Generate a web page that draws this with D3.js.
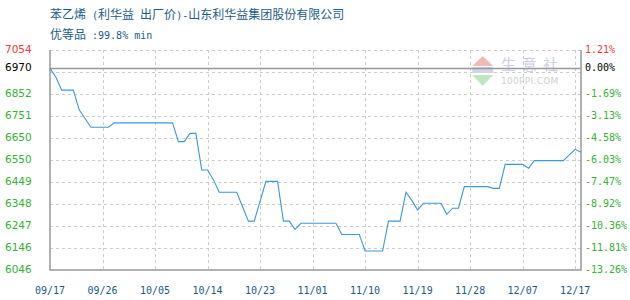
<!DOCTYPE html>
<html><head><meta charset="utf-8">
<script src="https://cdn.jsdelivr.net/npm/d3@7/dist/d3.min.js"></script>
<style>body{margin:0;background:#fff;overflow:hidden}</style>
</head><body>
<svg id="c" width="630" height="300"></svg>
<script>
const titleParts = ["苯乙烯"," (","利华益"," ","出厂价",")-","山东利华益集团股份有限公司"];
const subtitleParts = ["优等品"," :99.8% min"];
const xLabels = ["09/17","09/26","10/05","10/14","10/23","11/01","11/10","11/19","11/28","12/07","12/17"];
const leftTicks = [7054,6970,6852,6751,6650,6550,6449,6348,6247,6146,6046];
const rightTicks = ["1.21%","0.00%","-1.69%","-3.13%","-4.58%","-6.03%","-7.47%","-8.92%","-10.36%","-11.81%","-13.26%"];
const basePrice = 6970;
const prices = [
 6970,6930,6870,6870,6870,6780,6740,6700,6700,6700,
 6700,6720,6720,6720,6720,6720,6720,6720,6720,6720,
 6720,6720,6634,6634,6672,6672,6504,6504,6460,6402,
 6402,6402,6402,6336,6270,6270,6361,6452,6452,6452,
 6270,6270,6232,6260,6260,6260,6260,6260,6260,6260,
 6209,6209,6209,6209,6133,6133,6133,6133,6270,6270,
 6270,6402,6365,6321,6352,6352,6352,6352,6301,6329,
 6329,6428,6428,6428,6428,6428,6420,6420,6530,6530,
 6530,6530,6512,6547,6547,6547,6547,6547,6547,6573,
 6599,6585
];
const labelEvery = 9;

const svg = d3.select("#c");
const L = 50, R = 581, T = 50, B = 270;
const yMax = leftTicks[0], yMin = leftTicks[leftTicks.length-1];
const x = d3.scaleLinear().domain([0, prices.length-1]).range([L, R]);
const y = d3.scaleLinear().domain([yMin, yMax]).range([B, T]);

// title
function mixedText(parts, yy){
  const t = svg.append("text").attr("x",50).attr("y",yy).attr("fill","#1b5b8b").attr("xml:space","preserve")
    .style("white-space","pre");
  parts.forEach((p,i)=>{
    const cjk = /[\u4e00-\u9fff]/.test(p);
    t.append("tspan").style("font-family", cjk ? "'Noto Sans CJK SC'" : "'DejaVu Sans Mono'")
      .style("font-size", cjk ? "12px" : "10px").text(p);
  });
}
mixedText(titleParts, 19);
mixedText(subtitleParts, 39);

// horizontal grid
const gridVals = d3.range(10).map(k => yMax - k*(yMax-yMin)/10);
svg.append("g").selectAll("line").data(gridVals).join("line")
  .attr("x1",L).attr("x2",R).attr("y1",d=>Math.round(y(d))+0.5).attr("y2",d=>Math.round(y(d))+0.5)
  .attr("stroke","#cccccc").attr("stroke-dasharray","3,3");
// vertical grid
const xIdx = xLabels.map((d,i)=>i*labelEvery);
svg.append("g").selectAll("line").data(xIdx.slice(1)).join("line")
  .attr("x1",d=>Math.round(x(d))+0.5).attr("x2",d=>Math.round(x(d))+0.5).attr("y1",T).attr("y2",B)
  .attr("stroke","#cccccc").attr("stroke-dasharray","3,3");

// watermark
const wm = svg.append("g");
wm.append("path").attr("d","M482.7,56 L493.3,66 L472.3,66 Z").attr("fill","#f2b9b9");
wm.append("rect").attr("x",472.3).attr("y",67).attr("width",21).attr("height",6).attr("fill","#d0d4e4");
wm.append("path").attr("d","M472.3,75 L493.3,75 L482.7,86 Z").attr("fill","#bfe6bf");
wm.append("text").attr("x",501).attr("y",70).attr("fill","#c9d0e2")
  .style("font-family","'Noto Sans CJK SC'").style("font-size","15px").style("letter-spacing","6px").text("生意社");
wm.append("text").attr("x",501).attr("y",84).attr("fill","#cfcfcf")
  .style("font-family","'DejaVu Sans'").style("font-size","9px").style("letter-spacing","0.3px").text("100PPI.COM");

// base line
svg.append("line").attr("x1",L).attr("x2",R).attr("y1",Math.round(y(basePrice))+0.5).attr("y2",Math.round(y(basePrice))+0.5)
  .attr("stroke","#999").attr("stroke-width",1.5);

// border (left, bottom, right)
svg.append("path").attr("d",`M${L},${T} L${L},${B} L${R},${B} L${R},${T}`)
  .attr("fill","none").attr("stroke","#999").attr("stroke-width",1.5);

// line
svg.append("path").datum(prices)
  .attr("d", d3.line().x((d,i)=>x(i)).y(d=>y(d)))
  .attr("fill","none").attr("stroke","#3b9ad8").attr("stroke-width",1.1);

// left labels
function col(i){ return i===0 ? "#ff3333" : (i===1 ? "#000" : "#33b233"); }
svg.append("g").selectAll("text").data(leftTicks).join("text")
  .attr("x",5).attr("y",d=>y(d)).attr("dy","0.3em").attr("fill",(d,i)=>col(i))
  .style("font-family","'DejaVu Sans'").style("font-size","10.5px").text(d=>d);
// right labels
svg.append("g").selectAll("text").data(rightTicks).join("text")
  .attr("x",585).attr("y",(d,i)=>y(leftTicks[i])).attr("dy","0.3em").attr("fill",(d,i)=>col(i))
  .style("font-family","'DejaVu Sans Mono'").style("font-size","10px").text(d=>d);
// x labels
svg.append("g").selectAll("text").data(xLabels).join("text")
  .attr("x",(d,i)=>x(xIdx[i])).attr("y",294).attr("text-anchor","middle").attr("fill","#1b5b8b")
  .style("font-family","'DejaVu Sans Mono'").style("font-size","10px").text(d=>d);
</script>
</body></html>
